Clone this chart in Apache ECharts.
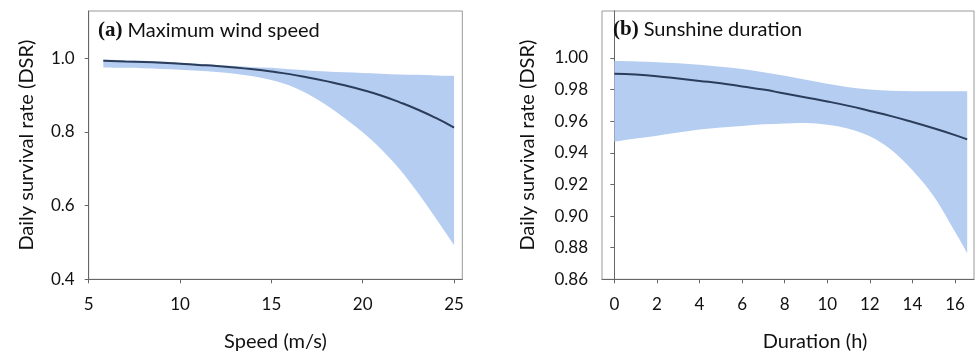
<!DOCTYPE html>
<html>
<head>
<meta charset="utf-8">
<script src="https://cdn.jsdelivr.net/npm/echarts@6/dist/echarts.min.js"></script>
<style>html,body{margin:0;padding:0;background:#fff}#c{width:976px;height:358px}</style>
</head>
<body>
<div id="c"></div>
<script>
// Panel (a): Maximum wind speed
var speedX     = [5.8, 7, 8, 9, 10, 11, 12, 13, 14, 15, 16, 17, 18, 19, 20, 21, 22, 23, 24, 25];
var speedMid   = [0.993, 0.991, 0.990, 0.988, 0.985, 0.982, 0.979, 0.975, 0.970, 0.964, 0.957, 0.948, 0.938, 0.927, 0.914, 0.899, 0.881, 0.861, 0.838, 0.812];
var speedUpper = [0.997, 0.995, 0.993, 0.991, 0.988, 0.985, 0.982, 0.979, 0.976, 0.974, 0.970, 0.967, 0.964, 0.962, 0.960, 0.958, 0.956, 0.955, 0.953, 0.952];
var speedLower = [0.975, 0.974, 0.973, 0.971, 0.969, 0.966, 0.963, 0.958, 0.951, 0.941, 0.926, 0.903, 0.873, 0.838, 0.799, 0.754, 0.700, 0.636, 0.566, 0.493];
var speedTicks = [5, 10, 15, 20, 25];
var dsrTicksA  = [0.4, 0.6, 0.8, 1.0];

// Panel (b): Sunshine duration
var durX     = [0, 1, 2, 3, 4, 5, 6, 7, 8, 9, 10, 11, 12, 13, 14, 15, 16, 16.57];
var durMid   = [0.990, 0.9895, 0.9885, 0.987, 0.9855, 0.984, 0.982, 0.980, 0.9775, 0.975, 0.9725, 0.9697, 0.9665, 0.9632, 0.9595, 0.9555, 0.9512, 0.9485];
var durUpper = [0.998, 0.9978, 0.9973, 0.9966, 0.9957, 0.9945, 0.993, 0.991, 0.9887, 0.9862, 0.9837, 0.9815, 0.980, 0.9792, 0.979, 0.979, 0.979, 0.979];
var durLower = [0.947, 0.949, 0.9508, 0.9528, 0.9547, 0.956, 0.957, 0.958, 0.9586, 0.9588, 0.9578, 0.9553, 0.9505, 0.942, 0.929, 0.9125, 0.890, 0.8765];
var durTicks = [0, 2, 4, 6, 8, 10, 12, 14, 16];
var dsrTicksB = [0.86, 0.88, 0.90, 0.92, 0.94, 0.96, 0.98, 1.00];

var bandColor = '#b4cdf1';
var lineColor = '#2b3d5b';
var font = 'Lato';

function pairs(xs, ys) { return xs.map(function (x, i) { return [x, ys[i]]; }); }

// Catmull-Rom spline through pixel points -> SVG path commands
function splineCmds(pts, moveFirst) {
  var s = moveFirst ? 'M' + pts[0][0] + ',' + pts[0][1] : 'L' + pts[0][0] + ',' + pts[0][1];
  for (var i = 0; i < pts.length - 1; i++) {
    var p0 = pts[i - 1] || pts[i], p1 = pts[i], p2 = pts[i + 1], p3 = pts[i + 2] || pts[i + 1];
    var c1x = p1[0] + (p2[0] - p0[0]) / 6, c1y = p1[1] + (p2[1] - p0[1]) / 6;
    var c2x = p2[0] - (p3[0] - p1[0]) / 6, c2y = p2[1] - (p3[1] - p1[1]) / 6;
    s += 'C' + c1x + ',' + c1y + ' ' + c2x + ',' + c2y + ' ' + p2[0] + ',' + p2[1];
  }
  return s;
}

function bandSeries(xi, yi, xs, lower, upper) {
  return {
    type: 'custom', xAxisIndex: xi, yAxisIndex: yi, silent: true, z: 1,
    data: pairs(xs, upper),
    encode: { x: 0, y: 1 },
    renderItem: function (params, api) {
      if (params.dataIndex !== 0) return null;
      var up = xs.map(function (x, i) { return api.coord([x, upper[i]]); });
      var lo = xs.map(function (x, i) { return api.coord([x, lower[i]]); }).reverse();
      var d = splineCmds(up, true) + splineCmds(lo, false) + 'Z';
      return { type: 'path', shape: { pathData: d }, style: { fill: bandColor, stroke: null } };
    }
  };
}
function midSeries(xi, yi, xs, mid) {
  return { type: 'line', xAxisIndex: xi, yAxisIndex: yi, smooth: true, symbol: 'none',
    data: pairs(xs, mid), lineStyle: { color: lineColor, width: 2 }, z: 3 };
}

function xAxisCfg(idx, min, max, ticks, name, pad) {
  return {
    type: 'value', gridIndex: idx, min: min, max: max,
    name: name, nameLocation: 'middle', nameGap: 52,
    nameTextStyle: { fontFamily: font, fontSize: 20, color: '#111', padding: pad },
    axisLine: { show: true, lineStyle: { color: '#666', width: 1 } },
    axisTick: { show: true, length: 4, lineStyle: { color: '#666' }, customValues: ticks },
    axisLabel: { fontFamily: font, fontSize: 17, color: '#111', margin: 17, customValues: ticks },
    splitLine: { show: false }
  };
}
function yAxisCfg(idx, min, max, ticks, dec, gap) {
  return {
    type: 'value', gridIndex: idx, min: min, max: max,
    name: 'Daily survival rate (DSR)', nameLocation: 'middle', nameGap: gap,
    nameTextStyle: { fontFamily: font, fontSize: 20, color: '#111' },
    axisLine: { show: true, lineStyle: { color: '#666', width: 1 } },
    axisTick: { show: true, length: 4, lineStyle: { color: '#666' }, customValues: ticks },
    axisLabel: { fontFamily: font, fontSize: 17, color: '#111', margin: 14,
      customValues: ticks, formatter: function (v) { return v.toFixed(dec); } },
    splitLine: { show: false }
  };
}

var chart = echarts.init(document.getElementById('c'), null, { renderer: 'canvas' });
chart.setOption({
  animation: false,
  backgroundColor: '#fff',
  title: [
    { left: 93, top: 15, text: '{b|(a)} {n|Maximum wind speed}',
      textStyle: { fontWeight: 'normal', rich: {
        b: { fontFamily: 'Liberation Serif', fontWeight: 'bold', fontSize: 21, color: '#111' },
        n: { fontFamily: font, fontWeight: 'normal', fontSize: 20, color: '#111' } } } },
    { left: 608, top: 14, text: '{b|(b)} {n|Sunshine duration}',
      textStyle: { fontWeight: 'normal', rich: {
        b: { fontFamily: 'Liberation Serif', fontWeight: 'bold', fontSize: 21, color: '#111' },
        n: { fontFamily: font, fontWeight: 'normal', fontSize: 20, color: '#111' } } } }
  ],
  grid: [
    { left: 88.7, top: 11, width: 373.6, height: 268.3, show: true, borderColor: '#999', borderWidth: 1, backgroundColor: 'transparent' },
    { left: 602, top: 11, width: 372, height: 268.3, show: true, borderColor: '#999', borderWidth: 1, backgroundColor: 'transparent' }
  ],
  xAxis: [
    xAxisCfg(0, 5, 25.45, speedTicks, 'Speed (m/s)', [0, 0, 0, 0]),
    xAxisCfg(1, -0.58, 16.89, durTicks, 'Duration (h)', [0, 0, 0, 54])
  ],
  yAxis: [
    yAxisCfg(0, 0.4, 1.1284, dsrTicksA, 1, 52),
    yAxisCfg(1, 0.86, 1.0297, dsrTicksB, 2, 64)
  ],
  series: [
    bandSeries(0, 0, speedX, speedLower, speedUpper),
    midSeries(0, 0, speedX, speedMid),
    bandSeries(1, 1, durX, durLower, durUpper),
    midSeries(1, 1, durX, durMid)
  ]
});
</script>
</body>
</html>
